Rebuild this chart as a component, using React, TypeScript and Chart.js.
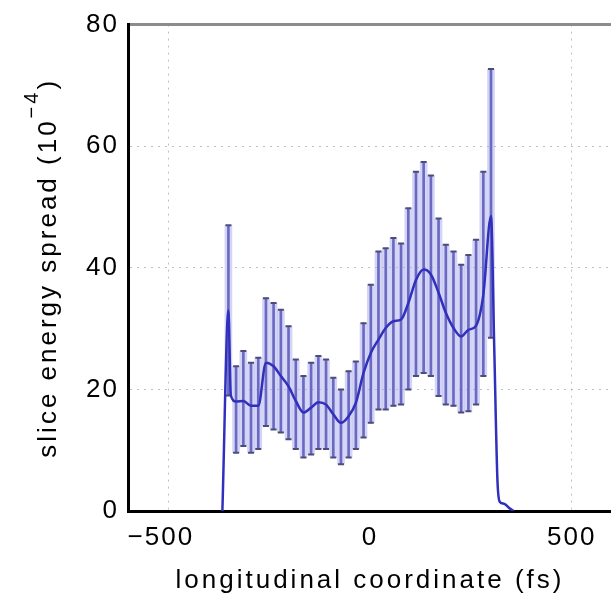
import React, { useEffect, useRef } from "react";
import { Chart, registerables } from "chart.js";

Chart.register(...registerables);

// ---- data ----
const xTicks = [-500, 0, 500];
const yTicks = [0, 20, 40, 60, 80];

const xLabel = "longitudinal coordinate (fs)";
const yLabelMain = "slice energy spread (10";
const yLabelSup = "\u22124";
const yLabelEnd = ")";

// error-bar slices (fs)
const barX = [-351, -332, -314, -295, -277, -258, -239, -221, -202, -184, -165, -146, -128, -109, -91, -72, -53, -35, -16, 2, 21, 39, 58, 77, 95, 114, 133, 151, 170, 188, 207, 226, 244, 263, 281, 300];
const barLow = [19, 9.6, 10.7, 9.6, 10.2, 14.0, 13.4, 12.9, 11.8, 10.2, 8.8, 9.3, 10.2, 10.2, 8.8, 7.7, 8.8, 10.2, 12.1, 14.5, 16.7, 16.7, 17.3, 17.5, 20.0, 22.2, 22.7, 22.2, 18.9, 17.5, 17.3, 16.2, 16.4, 17.5, 22.2, 28.5];
const barHigh = [47, 23.8, 26.3, 24.4, 25.2, 35.0, 34.2, 33.1, 30.4, 24.9, 22.2, 24.4, 25.5, 24.9, 21.9, 20.0, 23.0, 24.6, 30.9, 37.2, 42.7, 43.2, 44.9, 44.0, 49.8, 55.8, 57.4, 55.2, 48.1, 43.8, 42.7, 40.5, 42.1, 44.6, 55.8, 72.7];

// mean curve
const lineX = [-366, -351, -345, -332, -314, -295, -277, -258, -239, -221, -202, -184, -165, -146, -128, -109, -91, -72, -53, -35, -16, 2, 21, 39, 58, 77, 95, 114, 133, 151, 170, 188, 207, 226, 244, 263, 281, 300, 308, 316, 322, 332, 345, 356];
const lineY = [0, 33, 19, 18.0, 18.1, 17.3, 17.3, 24.4, 23.8, 22.2, 20.5, 18.1, 16.2, 17.0, 17.9, 17.5, 15.9, 14.5, 15.6, 17.8, 22.7, 26.0, 28.2, 30.1, 31.2, 31.5, 34.2, 38.0, 39.7, 38.9, 35.9, 32.6, 30.1, 28.7, 29.8, 30.5, 35.6, 48.5, 27, 5, 1.5, 1.2, 0.5, 0];

const FAMILY = '"Liberation Sans", Arial, Helvetica, sans-serif';
const tickFont = { family: FAMILY, size: 26 };

// negative labels get a trailing en space so the digits sit on the tick, as in the original
const fmt = (v: number) => (v < 0 ? "\u2212" + Math.abs(v) + "\u2002" : String(v));

const spacingPlugin = {
  id: "spacing",
  beforeDraw(chart: any) {
    chart.ctx.letterSpacing = "2px";
  },
};

const titlePlugin = {
  id: "axisTitles",
  afterDraw(chart: any) {
    const { ctx, chartArea } = chart;
    ctx.save();
    ctx.fillStyle = "#000";
    ctx.letterSpacing = "3px";
    ctx.font = `26px ${FAMILY}`;
    ctx.textBaseline = "alphabetic";
    ctx.textAlign = "center";
    const cx = (chartArea.left + chartArea.right) / 2;
    ctx.fillText(xLabel, cx, 588);

    // y label, rotated
    const cy = (chartArea.top + chartArea.bottom) / 2;
    ctx.translate(56, cy);
    ctx.rotate(-Math.PI / 2);
    ctx.textAlign = "left";
    ctx.font = `26px ${FAMILY}`;
    const wMain = ctx.measureText(yLabelMain).width;
    const wEnd = ctx.measureText(yLabelEnd).width;
    ctx.font = `20px ${FAMILY}`;
    const wSup = ctx.measureText(yLabelSup).width;
    const total = wMain + wSup + wEnd;
    let x = -total / 2;
    ctx.font = `26px ${FAMILY}`;
    ctx.fillText(yLabelMain, x, 0);
    x += wMain;
    ctx.font = `20px ${FAMILY}`;
    ctx.fillText(yLabelSup, x, -18);
    x += wSup;
    ctx.font = `26px ${FAMILY}`;
    ctx.fillText(yLabelEnd, x, 0);
    ctx.restore();
  },
};

const gridColor = (c: any) =>
  c.tick && (c.tick.value === 0 || c.tick.value === 80 || c.tick.value === -600 || c.tick.value === 600)
    ? "rgba(0,0,0,0)"
    : "rgba(165,165,165,0.7)";

export default function App() {
  const ref = useRef<HTMLCanvasElement>(null);
  useEffect(() => {
    const caps: { x: number; y: number }[] = [];
    barX.forEach((x, i) => {
      caps.push({ x, y: barHigh[i] });
      caps.push({ x, y: barLow[i] });
    });
    const barData = barX.map((x, i) => ({ x, y: [barLow[i], barHigh[i]] }));
    const chart = new Chart(ref.current as HTMLCanvasElement, {
      type: "bar",
      data: {
        datasets: [
          {
            type: "line",
            data: lineX.map((x, i) => ({ x, y: lineY[i] })),
            borderColor: "#3030bc",
            borderWidth: 2.5,
            pointRadius: 0,
            cubicInterpolationMode: "monotone",
            order: 0,
          } as any,
          {
            type: "scatter",
            data: caps,
            pointStyle: "line",
            pointRadius: 3,
            borderColor: "#4c4c78",
            pointBorderColor: "#4c4c78",
            pointBorderWidth: 2,
            borderWidth: 2,
            order: 1,
          } as any,
          {
            type: "bar",
            data: barData,
            barThickness: 2,
            backgroundColor: "rgba(95,95,190,0.9)",
            grouped: false,
            order: 2,
          } as any,
          {
            type: "bar",
            data: barData,
            barThickness: 7,
            backgroundColor: "rgba(170,170,238,0.5)",
            grouped: false,
            order: 3,
          } as any,
        ],
      },
      options: {
        responsive: false,
        animation: false,
        devicePixelRatio: 1,
        events: [],
        layout: { padding: { left: 0, top: 22, right: 28, bottom: 0 } },
        plugins: { legend: { display: false }, tooltip: { enabled: false }, title: { display: false } },
        scales: {
          x: {
            type: "linear",
            min: -600,
            max: 600,
            offset: false,
            afterBuildTicks: (s: any) => {
              s.ticks = xTicks.map((v) => ({ value: v }));
            },
            afterFit: (s: any) => {
              s.height = 84;
            },
            ticks: {
              font: tickFont,
              color: "#000",
              padding: 11,
              maxRotation: 0,
              autoSkip: false,
              callback: (v: any) => fmt(Number(v)),
            },
            grid: { color: gridColor, lineWidth: 1, drawTicks: false, offset: false },
            border: { color: "#000", width: 3, dash: [2, 5] },
          },
          x2: {
            type: "linear",
            position: "top",
            min: -600,
            max: 600,
            grid: { display: false, drawTicks: false },
            ticks: { display: false },
            border: { color: "#8c8c8c", width: 3 },
            afterFit: (s: any) => {
              s.height = 0;
            },
          },
          y: {
            type: "linear",
            min: 0,
            max: 80,
            afterBuildTicks: (s: any) => {
              s.ticks = yTicks.map((v) => ({ value: v }));
            },
            afterFit: (s: any) => {
              s.width = 128;
            },
            ticks: { font: tickFont, color: "#000", padding: 9 },
            grid: { color: gridColor, lineWidth: 1, drawTicks: false },
            border: { color: "#000", width: 3, dash: [2, 5] },
          },
        },
      } as any,
      plugins: [spacingPlugin, titlePlugin],
    });
    return () => chart.destroy();
  }, []);
  return (
    <div
      style={{
        position: "fixed",
        left: 0,
        top: 0,
        width: 611,
        height: 595,
        overflow: "hidden",
        background: "#fff",
      }}
    >
      <canvas ref={ref} width={640} height={595} style={{ display: "block", width: 640, height: 595 }} />
    </div>
  );
}
